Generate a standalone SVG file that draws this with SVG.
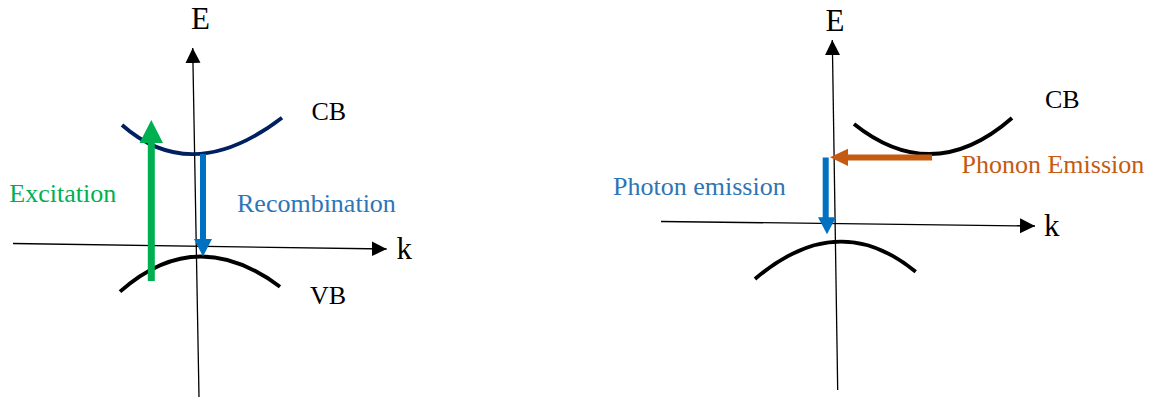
<svg xmlns="http://www.w3.org/2000/svg" width="1156" height="399" viewBox="0 0 1156 399">
  <style>
    .axis { stroke: #000; stroke-width: 1.3; fill: none; marker-end: url(#axisHead); }
    .band { fill: none; stroke-width: 3.8; }
    .lbl { font-family: "Liberation Serif", "Times New Roman", serif; font-size: 26px; }
    .ax-lbl { font-family: "Liberation Serif", "Times New Roman", serif; font-size: 31px; fill: #000; }
  </style>
  <defs>
    <marker id="axisHead" markerUnits="userSpaceOnUse" markerWidth="16" markerHeight="16" refX="15" refY="7.5" orient="auto">
      <path d="M0,0 L15,7.5 L0,15 Z" fill="#000"/>
    </marker>
  </defs>

  <!-- Direct band gap panel -->
  <g id="direct-axes">
    <line class="axis" x1="199" y1="397" x2="192.7" y2="48"/>
    <line class="axis" x1="13" y1="243.5" x2="386.7" y2="249"/>
    <text class="ax-lbl" x="191" y="29.3">E</text>
    <text class="ax-lbl" x="396.5" y="259">k</text>
  </g>
  <g id="direct-cb">
    <path class="band" stroke="#002060" d="M122,125 Q192,186.7 282,117.7"/>
    <text class="lbl" x="311.5" y="120" fill="#000">CB</text>
  </g>
  <g id="direct-vb">
    <path class="band" stroke="#000" d="M120,291.7 Q196,223.8 280,286.7"/>
    <text class="lbl" x="310" y="304" fill="#000">VB</text>
  </g>

  <!-- Indirect band gap panel -->
  <g id="indirect-axes">
    <line class="axis" x1="837.7" y1="390" x2="832.3" y2="40"/>
    <line class="axis" x1="661" y1="221.5" x2="1035" y2="226"/>
    <text class="ax-lbl" x="825.5" y="30.5">E</text>
    <text class="ax-lbl" x="1044" y="236">k</text>
  </g>
  <g id="indirect-cb">
    <path class="band" stroke="#000" d="M854,124 Q933,187 1012,118"/>
    <text class="lbl" x="1045" y="108.3" fill="#000">CB</text>
  </g>
  <g id="indirect-vb">
    <path class="band" stroke="#000" d="M755,279 Q838,208.1 915.7,271.7"/>
  </g>

  <!-- Transitions -->
  <g id="connectors">
    <path id="excitation-arrow" fill="#00B050" d="M147.8,281 V143 H139.5 L151.3,120 L163,143 H154.8 V281 Z"/>
    <path id="recombination-arrow" fill="#0070C0" d="M200,154 H206 V239 H212 L203,256.5 L194,239 H200 Z"/>
    <path id="phonon-arrow" fill="#C55A11" d="M932,154.5 V160.5 H848 V166 L830,157.3 L848,148.7 V154.5 Z"/>
    <path id="photon-arrow" fill="#0070C0" d="M822.7,157.5 H828.7 V217.3 H836 L827,234.3 L818,217.3 H822.7 Z"/>
  </g>

  <g id="labels">
    <text class="lbl" x="9.3" y="201.7" fill="#00B050">Excitation</text>
    <text class="lbl" x="237" y="211.7" fill="#2E75B6">Recombination</text>
    <text class="lbl" x="613" y="195" fill="#2E75B6">Photon emission</text>
    <text class="lbl" x="961.5" y="173.3" fill="#C55A11">Phonon Emission</text>
  </g>
</svg>
